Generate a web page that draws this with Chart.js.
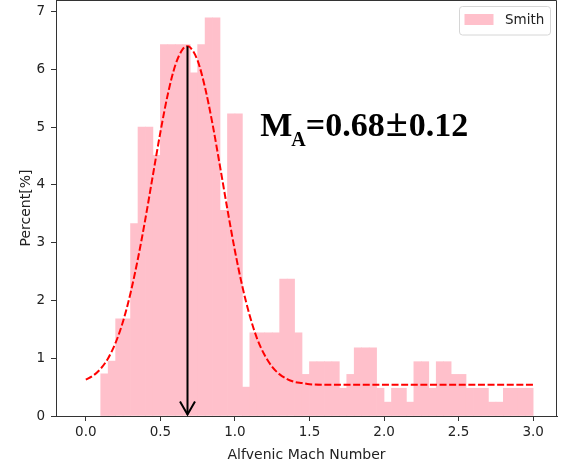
<!DOCTYPE html>
<html>
<head>
<meta charset="utf-8">
<script src="https://cdn.jsdelivr.net/npm/chart.js@4.4.1/dist/chart.umd.min.js"></script>
<style>
  body { margin: 0; background: #fff; }
  #wrap { width: 562px; height: 467px; position: relative; }
</style>
</head>
<body>
<div id="wrap"><canvas id="hist"></canvas></div>
<script>
// histogram bins (centres, width 0.05) and their percentages
var binCenters = [0.125, 0.175, 0.225, 0.275, 0.325, 0.375, 0.425, 0.475, 0.525, 0.575,
  0.625, 0.675, 0.725, 0.775, 0.825, 0.875, 0.925, 0.975, 1.025, 1.075,
  1.125, 1.175, 1.225, 1.275, 1.325, 1.375, 1.425, 1.475, 1.525, 1.575,
  1.625, 1.675, 1.725, 1.775, 1.825, 1.875, 1.925, 1.975, 2.025, 2.075,
  2.125, 2.175, 2.225, 2.275, 2.325, 2.375, 2.425, 2.475, 2.525, 2.575,
  2.625, 2.675, 2.725, 2.775, 2.825, 2.875, 2.925, 2.975];
var percent = [0.73, 0.95, 1.68, 1.68, 3.33, 5.00, 5.00, 4.51, 6.43, 6.43,
  6.43, 6.43, 5.94, 6.43, 6.89, 6.89, 3.56, 5.23, 5.23, 0.50,
  1.44, 1.44, 1.44, 1.44, 2.37, 2.37, 1.44, 0.72, 0.94, 0.94,
  0.94, 0.94, 0.48, 0.72, 1.18, 1.18, 1.18, 0.48, 0.24, 0.48,
  0.48, 0.24, 0.94, 0.94, 0.48, 0.94, 0.94, 0.72, 0.72, 0.48,
  0.48, 0.48, 0.24, 0.24, 0.48, 0.48, 0.48, 0.48];

// dashed fit curve
var fitX = [0.00, 0.05, 0.10, 0.15, 0.20, 0.25, 0.30, 0.35, 0.40, 0.45, 0.50, 0.55,
  0.60, 0.65, 0.68, 0.70, 0.75, 0.80, 0.85, 0.90, 0.95, 1.00, 1.05, 1.10,
  1.15, 1.20, 1.25, 1.30, 1.35, 1.40, 1.45, 1.50, 1.60, 2.00, 2.50, 3.00];
var fitY = [0.63, 0.70, 0.82, 1.00, 1.27, 1.64, 2.13, 2.73, 3.42, 4.17, 4.91, 5.57,
  6.07, 6.35, 6.40, 6.38, 6.15, 5.68, 5.05, 4.32, 3.57, 2.86, 2.24, 1.73,
  1.33, 1.05, 0.85, 0.72, 0.64, 0.59, 0.57, 0.55, 0.54, 0.54, 0.54, 0.54];

var xTicks = [0.0, 0.5, 1.0, 1.5, 2.0, 2.5, 3.0];
var yTicks = [0, 1, 2, 3, 4, 5, 6, 7];

var meanMA = 0.68, errMA = 0.12, peakPercent = 6.40;
var textAt = [1.17, 4.84];

var FONT = "'DejaVu Sans', sans-serif";
var INK = "#333";

function axisTicks(list) {
  return function (s) {
    s.ticks = list.map(function (v) { return { value: v }; });
  };
}

var extras = {
  id: "extras",
  afterDatasetsDraw: function (chart) {
    var c = chart.ctx, a = chart.chartArea,
      sx = chart.scales.x, sy = chart.scales.y;
    c.save();

    // arrow at the mean
    var ax = Math.round(sx.getPixelForValue(meanMA)) + 0.5,
      top = sy.getPixelForValue(peakPercent),
      tip = sy.getPixelForValue(0) - 1.5;
    c.strokeStyle = "#000";
    c.lineWidth = 2;
    c.beginPath();
    c.moveTo(ax, top);
    c.lineTo(ax, tip);
    c.stroke();
    c.beginPath();
    c.moveTo(ax - 7.5, tip - 13);
    c.lineTo(ax, tip);
    c.lineTo(ax + 7.5, tip - 13);
    c.stroke();

    // M_A annotation
    var tx = sx.getPixelForValue(textAt[0]), ty = sy.getPixelForValue(textAt[1]);
    c.fillStyle = "#000";
    c.textBaseline = "alphabetic";
    c.textAlign = "left";
    c.font = "bold 34px 'Liberation Serif', serif";
    c.fillText("M", tx, ty);
    tx += c.measureText("M").width - 1;
    c.font = "bold 20px 'Liberation Serif', serif";
    c.fillText("A", tx, ty + 10);
    tx += c.measureText("A").width;
    c.font = "bold 34px 'Liberation Serif', serif";
    c.fillText("=" + meanMA.toFixed(2), tx, ty);
    tx += c.measureText("=" + meanMA.toFixed(2)).width + 1;
    c.font = "bold 40px 'Liberation Serif', serif";
    c.fillText("\u00b1", tx, ty);
    tx += c.measureText("\u00b1").width + 1;
    c.font = "bold 34px 'Liberation Serif', serif";
    c.fillText(errMA.toFixed(2), tx, ty);

    // frame (top and right spines)
    c.strokeStyle = INK;
    c.lineWidth = 1;
    c.beginPath();
    c.moveTo(Math.round(a.left) + 0.5, Math.round(a.top) + 0.5);
    c.lineTo(Math.round(a.right) - 0.5, Math.round(a.top) + 0.5);
    c.lineTo(Math.round(a.right) - 0.5, Math.round(a.bottom));
    c.stroke();

    // legend box
    var ds = chart.data.datasets[0],
      bw = 91, bh = 28.5,
      bx = Math.round(a.right - 7.5 - bw) + 0.5, by = a.top + 6.5;
    c.fillStyle = "rgba(255,255,255,0.8)";
    c.strokeStyle = "#d6d6d6";
    c.beginPath();
    c.roundRect(bx, by, bw, bh, 3);
    c.fill();
    c.stroke();
    c.fillStyle = ds.backgroundColor;
    c.fillRect(bx + 5, by + 7.5, 29, 11);
    c.fillStyle = "#222";
    c.font = "13.5px " + FONT;
    c.textBaseline = "middle";
    c.fillText(ds.label, bx + 45.5, by + 13.5);
    c.restore();
  }
};

new Chart(document.getElementById("hist"), {
  type: "bar",
  data: {
    datasets: [
      {
        type: "bar",
        label: "Smith",
        data: binCenters.map(function (x, i) { return { x: x, y: percent[i] }; }),
        backgroundColor: "#FFC0CB",
        borderWidth: 0,
        barPercentage: 1,
        categoryPercentage: 1,
        order: 2
      },
      {
        type: "line",
        label: "fit",
        data: fitX.map(function (x, i) { return { x: x, y: fitY[i] }; }),
        borderColor: "#FF0000",
        borderWidth: 2,
        borderDash: [7, 2.6],
        pointRadius: 0,
        fill: false,
        cubicInterpolationMode: "monotone",
        order: 1
      }
    ]
  },
  options: {
    responsive: true,
    maintainAspectRatio: false,
    animation: false,
    layout: { padding: { top: 0, right: 5, left: 0, bottom: 0 } },
    plugins: { legend: { display: false }, tooltip: { enabled: false } },
    scales: {
      x: {
        type: "linear",
        min: -0.2,
        max: 3.16,
        offset: false,
        grid: { offset: false, drawOnChartArea: false, color: INK, tickLength: 5 },
        border: { color: INK },
        afterBuildTicks: axisTicks(xTicks),
        afterFit: function (s) { s.height = 51; s.paddingLeft = 0; s.paddingRight = 0; },
        ticks: {
          color: "#222",
          padding: 3,
          maxRotation: 0,
          font: { family: FONT, size: 13.5 },
          callback: function (v) { return Number(v).toFixed(1); }
        },
        title: {
          display: true,
          text: "Alfvenic Mach Number",
          color: "#222",
          font: { family: FONT, size: 14 },
          padding: { top: 0, bottom: 3 }
        }
      },
      y: {
        min: 0,
        max: 7.2,
        grid: { drawOnChartArea: false, color: INK, tickLength: 5 },
        border: { color: INK },
        afterBuildTicks: axisTicks(yTicks),
        afterFit: function (s) { s.width = 56; s.paddingTop = 0; s.paddingBottom = 0; },
        ticks: {
          color: "#222",
          padding: 6,
          font: { family: FONT, size: 13.5 },
          callback: function (v) { return String(v); }
        },
        title: {
          display: true,
          text: "Percent[%]",
          color: "#222",
          font: { family: FONT, size: 14 },
          padding: { top: 18, bottom: 0 }
        }
      }
    }
  },
  plugins: [extras]
});
</script>
</body>
</html>
